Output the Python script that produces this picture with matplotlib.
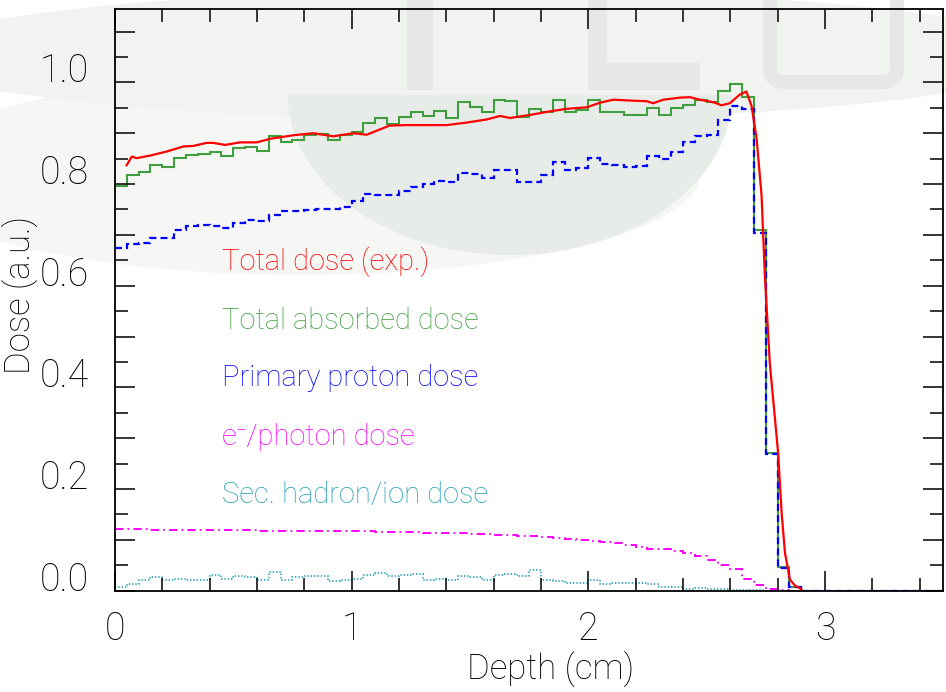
import numpy as np
import matplotlib
matplotlib.use("Agg")
import matplotlib.pyplot as plt
import matplotlib.ticker as mtick
from matplotlib.patches import Ellipse, Rectangle
from matplotlib.path import Path
from matplotlib.patches import PathPatch

plt.rcParams["font.family"] = ["Roboto", "DejaVu Sans"]
plt.rcParams["font.weight"] = "light"
plt.rcParams["axes.labelweight"] = "light"
plt.rcParams["lines.scale_dashes"] = False

# --- data: 0.05 cm bins over 0-3.5 cm ---
bin_edges = np.arange(71) * 0.05

total_absorbed = [0.797, 0.818, 0.823, 0.837, 0.833, 0.851, 0.858, 0.859, 0.864, 0.856,
                  0.870, 0.872, 0.866, 0.894, 0.882, 0.887, 0.897, 0.898, 0.886, 0.896,
                  0.902, 0.921, 0.930, 0.919, 0.932, 0.942, 0.933, 0.944, 0.930, 0.962,
                  0.952, 0.941, 0.966, 0.963, 0.932, 0.948, 0.942, 0.965, 0.942, 0.946,
                  0.965, 0.942, 0.942, 0.936, 0.935, 0.950, 0.936, 0.950, 0.956, 0.965,
                  0.961, 0.984, 0.997, 0.971, 0.710, 0.271, 0.046, 0.008, 0.0, 0.0,
                  0.0, 0.0, 0.0, 0.0, 0.0, 0.0, 0.0, 0.0, 0.0, 0.0]

primary_proton = [0.674, 0.682, 0.684, 0.693, 0.693, 0.710, 0.718, 0.720, 0.717, 0.713,
                  0.724, 0.730, 0.728, 0.740, 0.747, 0.747, 0.749, 0.751, 0.751, 0.755,
                  0.766, 0.781, 0.778, 0.778, 0.786, 0.795, 0.801, 0.806, 0.804, 0.821,
                  0.820, 0.812, 0.827, 0.827, 0.805, 0.804, 0.817, 0.844, 0.827, 0.831,
                  0.851, 0.840, 0.837, 0.834, 0.835, 0.855, 0.849, 0.864, 0.883, 0.894,
                  0.896, 0.927, 0.954, 0.947, 0.704, 0.268, 0.045, 0.007, 0.0, 0.0,
                  0.0, 0.0, 0.0, 0.0, 0.0, 0.0, 0.0, 0.0, 0.0, 0.0]

em_photon = [0.121, 0.121, 0.121, 0.120, 0.120, 0.120, 0.119, 0.119, 0.119, 0.119,
             0.119, 0.119, 0.118, 0.118, 0.118, 0.118, 0.118, 0.118, 0.118, 0.117,
             0.117, 0.117, 0.116, 0.116, 0.115, 0.115, 0.114, 0.114, 0.113, 0.113,
             0.112, 0.111, 0.110, 0.109, 0.108, 0.107, 0.105, 0.103, 0.101, 0.099,
             0.098, 0.096, 0.093, 0.089, 0.086, 0.083, 0.082, 0.078, 0.074, 0.069,
             0.061, 0.051, 0.042, 0.024, 0.011, 0.004, 0.001, 0.0, 0.0, 0.0,
             0.0, 0.0, 0.0, 0.0, 0.0, 0.0, 0.0, 0.0, 0.0, 0.0]

sec_hadron = [0.008, 0.013, 0.022, 0.026, 0.022, 0.024, 0.022, 0.022, 0.030, 0.024,
              0.029, 0.026, 0.021, 0.037, 0.021, 0.026, 0.028, 0.028, 0.020, 0.021,
              0.024, 0.031, 0.035, 0.028, 0.031, 0.032, 0.022, 0.024, 0.021, 0.029,
              0.026, 0.022, 0.031, 0.032, 0.028, 0.041, 0.022, 0.019, 0.016, 0.016,
              0.021, 0.013, 0.016, 0.016, 0.015, 0.013, 0.008, 0.008, 0.003, 0.005,
              0.004, 0.003, 0.002, 0.001, 0.001, 0.0, 0.0, 0.0, 0.0, 0.0,
              0.0, 0.0, 0.0, 0.0, 0.0, 0.0, 0.0, 0.0, 0.0, 0.0]

# measured (experimental) total dose curve
exp_depth = [0.049, 0.071, 0.092, 0.148, 0.218, 0.289, 0.331, 0.387, 0.415, 0.465,
             0.528, 0.599, 0.655, 0.753, 0.838, 0.922, 0.965, 1.007, 1.063, 1.160,
             1.232, 1.317, 1.401, 1.486, 1.570, 1.627, 1.669, 1.753, 1.838, 1.908,
             1.993, 2.049, 2.105, 2.190, 2.246, 2.274, 2.317, 2.387, 2.429, 2.471,
             2.528, 2.563, 2.598, 2.640, 2.668, 2.690, 2.711, 2.732, 2.746, 2.767,
             2.788, 2.802, 2.817, 2.831, 2.852, 2.873, 2.901]
exp_dose = [0.837, 0.854, 0.851, 0.856, 0.864, 0.874, 0.875, 0.881, 0.881, 0.877,
            0.882, 0.882, 0.889, 0.896, 0.900, 0.894, 0.897, 0.900, 0.897, 0.915,
            0.916, 0.916, 0.916, 0.921, 0.927, 0.934, 0.930, 0.936, 0.943, 0.948,
            0.951, 0.960, 0.966, 0.964, 0.963, 0.959, 0.966, 0.970, 0.971, 0.966,
            0.961, 0.955, 0.959, 0.976, 0.982, 0.953, 0.890, 0.778, 0.620, 0.447,
            0.342, 0.271, 0.152, 0.074, 0.022, 0.010, 0.003]

labels = ["Total dose (exp.)", "Total absorbed dose", "Primary proton dose",
          "e\u207b/photon dose", "Sec. hadron/ion dose"]
label_y = [0.630, 0.515, 0.402, 0.287, 0.172]

RED, GREEN, BLUE, MAGENTA, CYAN = "#ff0000", "#3f9f3f", "#0000ff", "#ff00ff", "#22a2b4"
colors = [RED, GREEN, BLUE, MAGENTA, CYAN]

fig = plt.figure(figsize=(9.46, 6.92), dpi=100)

# --- faint logo watermark in the background (pixel coordinates) ---
bg = fig.add_axes([0, 0, 1, 1], zorder=0)
bg.set_xlim(0, 946)
bg.set_ylim(692, 0)
bg.axis("off")
bg.add_patch(Ellipse((300, 175), 800, 200, color="#f6f7f5", lw=0))
bg.add_patch(Ellipse((480, 55), 1150, 130, color="#f0f3ef", lw=0))
disc = Ellipse((510, 95), 444, 320, color="#e8ece9", lw=0)
bg.add_patch(disc)
disc.set_clip_path(Rectangle((0, 95), 946, 600, transform=bg.transData))
for r in [(407, -5, 26, 95), (588, -5, 19, 95), (588, 63, 112, 27)]:
    bg.add_patch(Rectangle(r[:2], r[2], r[3], color="#e7e7e7", lw=0))
u_path = Path([(770, -5), (770, 68), (770, 82), (785, 82), (882, 82), (897, 82), (897, 68), (897, -5)],
              [Path.MOVETO, Path.LINETO, Path.CURVE3, Path.CURVE3, Path.LINETO, Path.CURVE3, Path.CURVE3, Path.LINETO])
bg.add_patch(PathPatch(u_path, fill=False, ec="#e7e7e7", lw=10))

# --- main plot ---
ax = fig.add_axes([115 / 946, 1 - 590.7 / 692, 828.3 / 946, 582 / 692], zorder=1)
ax.set_facecolor("none")

ax.stairs(total_absorbed, bin_edges, baseline=None, color=GREEN, lw=1.5)
ax.stairs(primary_proton, bin_edges, baseline=None, color=BLUE, lw=1.6, linestyle=(0, (5, 3)))
ax.stairs(em_photon, bin_edges, baseline=None, color=MAGENTA, lw=1.4, linestyle=(0, (6, 3, 1.2, 3)))
ax.stairs(sec_hadron, bin_edges, baseline=None, color=CYAN, lw=1.2, linestyle=(0, (1, 1.4)))
ax.plot(exp_depth, exp_dose, color=RED, lw=1.6)

for txt, y, c in zip(labels, label_y, colors):
    ax.text(0.451, y, txt, color=c, fontsize=21, va="baseline", ha="left")

ax.set_xlim(0, 3.5)
ax.set_ylim(0, 1.145)

ax.xaxis.set_major_locator(mtick.MultipleLocator(1))
ax.xaxis.set_minor_locator(mtick.MultipleLocator(0.2))
ax.xaxis.set_major_formatter(mtick.FormatStrFormatter("%d"))

yt = [0.0, 0.1, 0.2, 0.3, 0.4, 0.5, 0.6, 0.7, 0.8, 0.9, 1.0, 1.1]
ax.set_yticks(yt)
ax.set_yticklabels([f"{v:.1f}" if i % 2 == 0 else "" for i, v in enumerate(yt)])
ax.yaxis.set_minor_locator(mtick.MultipleLocator(0.05))

ax.tick_params(which="both", direction="in", top=True, right=True, width=1.1, color="black")
ax.tick_params(which="major", length=14.4, labelsize=27)
ax.tick_params(which="minor", length=9.4)
ax.tick_params(axis="x", pad=14)
ax.tick_params(axis="y", pad=19)
for lab in ax.get_yticklabels():
    lab.set_va("baseline")
for s in ax.spines.values():
    s.set_linewidth(1.3)

ax.set_xlabel("Depth (cm)", fontsize=25, fontweight="light", va="baseline")
ax.xaxis.set_label_coords(0.526, -(680 - 590.7) / 582)
ax.set_ylabel("Dose (a.u.)", fontsize=25, fontweight="light", va="center")
ax.yaxis.set_label_coords(-0.1135, 0.508)

plt.savefig("out.png", dpi=100)
plt.close()
